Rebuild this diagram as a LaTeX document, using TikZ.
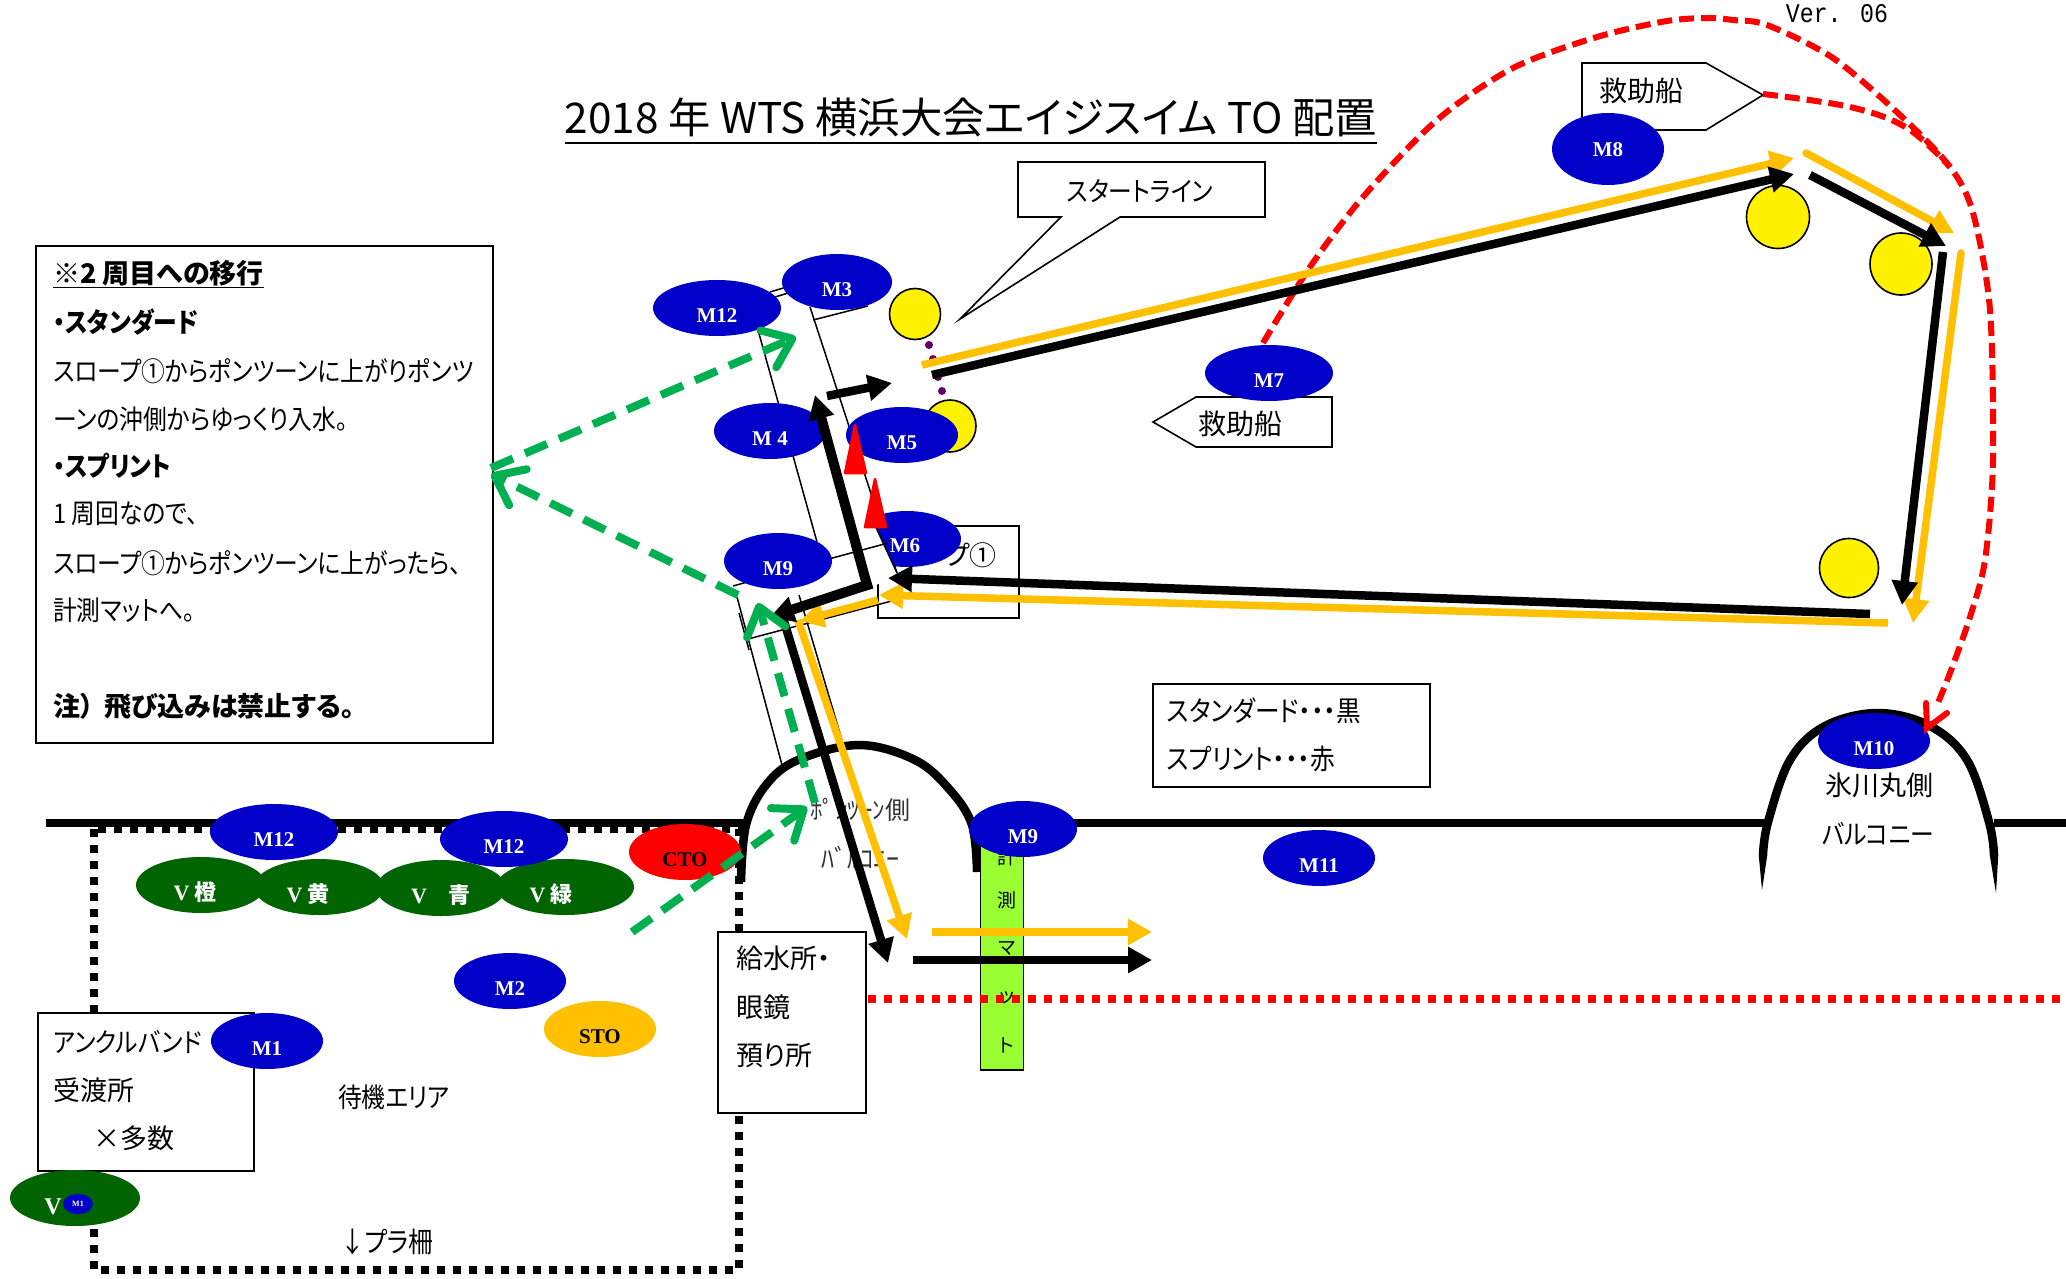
\documentclass[tikz,border=0pt]{standalone}
\usepackage{fontspec}
\setmainfont[RawFeature=+palt]{Noto Sans CJK JP}
\newfontfamily\janar[RawFeature=+palt,FakeStretch=0.88]{Noto Sans CJK JP}
\newfontfamily\mserif{Liberation Serif}
\newfontfamily\vermono[FakeStretch=0.86]{Liberation Mono}
\usetikzlibrary{arrows.meta,shapes.geometric}
\definecolor{mblue}{HTML}{0000C8}
\definecolor{vgreen}{HTML}{006400}
\definecolor{gold}{HTML}{FFC000}
\definecolor{dgreen}{HTML}{00B050}
\definecolor{matgreen}{HTML}{99FF33}
\definecolor{dotpurple}{HTML}{660066}
\tikzset{
 x=1pt,y=-1pt,
 el/.style={shape=ellipse,inner sep=0pt,minimum height=56pt},
 mel/.style={el,fill=mblue},
 vel/.style={el,fill=vgreen},
 lab/.style={font=\mserif\bfseries\fontsize{21}{21}\selectfont,yshift=-7.5pt,inner sep=0pt},
 wlab/.style={lab,text=white},
 ja/.style={font=\fontsize{27}{27}\selectfont,anchor=west,inner sep=0pt},
 jn/.style={ja,font=\janar\fontsize{27}{27}\selectfont},
 jnl/.style={ja,font=\janar\fontsize{28}{28}\selectfont},
 jb/.style={ja,font=\bfseries\fontsize{27}{27}\selectfont},
 jbn/.style={ja,font=\janar\bfseries\fontsize{27}{27}\selectfont},
 boxs/.style={draw=black,line width=1.6pt,fill=white},
 buoy/.style={shape=circle,draw=black,line width=1.6pt,fill=yellow,inner sep=0pt},
 dotp/.style={shape=circle,fill=dotpurple,inner sep=0pt,minimum size=8pt},
 thin line/.style={draw=black,line width=1.5pt},
 wall/.style={draw=black,line width=8.5pt},
 blk/.style={draw=black,line width=8.5pt,-{Triangle[length=24pt,width=25pt]}},
 blkb/.style={blk,line width=10pt,line cap=rect},
 org/.style={draw=gold,line width=7.5pt,-{Triangle[length=24pt,width=25pt]}},
 gdash/.style={draw=dgreen,line width=8pt,dash pattern=on 24pt off 13pt,-{Straight Barb[length=26pt,width=40pt,line width=8pt,round]}},
 rdash/.style={draw=red,line width=6pt,dash pattern=on 15pt off 7pt},
 cone/.style={fill=red,draw=red,line width=2.5pt,line join=round},
 vtx/.style={font=\bfseries\fontsize{22}{22}\selectfont,text=white,inner sep=0pt,yshift=-7pt},
 mattx/.style={font=\fontsize{19}{19}\selectfont,inner sep=0pt}
}
\begin{document}
\begin{tikzpicture}
\useasboundingbox (0,0) rectangle (2066,1279);
\fill[white] (0,0) rectangle (2066,1279);

% title and version
\node[inner sep=0pt,font=\fontsize{42.3}{42.3}\selectfont] (title) at (971,117) {2018 年 WTS 横浜大会エイジスイム TO 配置};
\draw[line width=2pt] ([yshift=-6pt]title.south west) -- ([yshift=-6pt]title.south east);
\node[inner sep=0pt,font=\vermono\fontsize{27}{27}\selectfont] (ver) at (1837,14) {Ver. 06};

% fence and walls
\coordinate (fa) at (94,829); \coordinate (fb) at (94,1270); \coordinate (fc) at (739,1270); \coordinate (fd) at (739,829);
\draw[line width=7.5pt,dash pattern=on 8pt off 8pt] (fa) -- (fb) -- (fc) -- (fd) -- cycle;
\coordinate (w1) at (46,823); \coordinate (w2) at (748,823); \coordinate (w3) at (970,823); \coordinate (w4) at (1765,823); \coordinate (w5) at (1994,823); \coordinate (w6) at (2066,823);
\draw[wall] (w1) -- (w2);
\draw[wall] (w3) -- (w4);
\draw[wall] (w5) -- (w6);
\draw[wall] plot[smooth,tension=.6] coordinates {(741,882) (746,825) (766,785) (798,760) (859,745) (915,760) (950,790) (972,825) (977,872)};
\draw[wall] plot[smooth,tension=.6] coordinates {(1763,855) (1768,822) (1790,760) (1825,726) (1878,713) (1930,726) (1967,760) (1989,822) (1994,855)};
\coordinate (sp1) at (1758.7,855); \coordinate (sp2) at (1762,890); \coordinate (sp3) at (1767.3,855);
\coordinate (sp4) at (1989.7,855); \coordinate (sp5) at (1996,893); \coordinate (sp6) at (1998.3,855);
\fill[black] (sp1) -- (sp2) -- (sp3) -- cycle;
\fill[black] (sp4) -- (sp5) -- (sp6) -- cycle;

% pontoon outlines
\coordinate (p1) at (758,330); \coordinate (p2) at (817,542);
\coordinate (p3) at (810,307); \coordinate (p4) at (897,573);
\coordinate (p5) at (770,292); \coordinate (p6) at (800,283);
\coordinate (p7) at (775,297); \coordinate (p8) at (805,288);
\coordinate (p9) at (813,320); \coordinate (p10) at (868,306);
\coordinate (p11) at (733,586); \coordinate (p12) at (888,543);
\coordinate (p13) at (737,597); \coordinate (p14) at (782,765);
\coordinate (p15) at (799,595); \coordinate (p16) at (844,747);
\coordinate (p17) at (782,765); \coordinate (p18) at (844,747);
\coordinate (p19) at (748,639); \coordinate (p20) at (903,598);
\coordinate (p21) at (739,613); \coordinate (p22) at (749,650);
\foreach \a/\b in {p1/p2,p3/p4,p5/p6,p7/p8,p9/p10,p11/p12,p13/p14,p15/p16,p17/p18,p19/p20,p21/p22}
  \draw[thin line] (\a) -- (\b);

% slope box
\node[boxs,fill=none,minimum width=141pt,minimum height=92pt,inner sep=0pt] (slope) at (948.5,572) {};
\node[inner sep=0pt,anchor=east,font=\fontsize{27}{27}\selectfont] (slopet) at (997,555) {スロープ①};

% balcony texts
\node[inner sep=0pt,font=\fontsize{25}{25}\selectfont,text=black!80] (pb1) at (860,810) {ﾎﾟﾝﾂｰﾝ側};
\node[inner sep=0pt,font=\fontsize{26}{26}\selectfont,text=black!80] (pb2) at (860,858) {ﾊﾞﾙｺﾆｰ};
\node[ja,anchor=center] (hk1) at (1879,785) {氷川丸側};
\node[jn,anchor=center] (hk2) at (1878,834) {バルコニー};

% mat
\node[draw=black,line width=1.6pt,fill=matgreen,minimum width=43pt,minimum height=232pt,inner sep=0pt] (mat) at (1002,954) {};
\node[mattx] (mt1) at (1007,857) {計};
\node[mattx] (mt2) at (1007,900) {測};
\node[mattx] (mt3) at (1007,948) {マ};
\node[mattx] (mt4) at (1007,998) {ッ};
\node[mattx] (mt5) at (1007,1045) {ト};

% red dotted finish line
\coordinate (r1) at (868,999); \coordinate (r2) at (2066,999);
\draw[red,line width=8pt,dash pattern=on 8pt off 8pt] (r1) -- (r2);

% boxes
\node[boxs,minimum width=457pt,minimum height=497pt,inner sep=0pt] (note) at (264.5,494.5) {};
\node[jb] (n1) at (53,274) {\underline{※2 周目への移行}};
\node[jbn] (n2) at (53,322) {・スタンダード};
\node[jn] (n3) at (53,371) {スロープ①からポンツーンに上がりポンツ};
\node[jn] (n4) at (53,419) {ーンの沖側からゆっくり入水。};
\node[jbn] (n5) at (53,466) {・スプリント};
\node[jn] (n6) at (53,514) {1 周回なので、};
\node[jn] (n7) at (53,563) {スロープ①からポンツーンに上がったら、};
\node[jn] (n8) at (53,610) {計測マットへ。};
\node[jb] (n9) at (53,706) {注）\hspace{.4em}飛び込みは禁止する。};

\node[boxs,minimum width=277pt,minimum height=103pt,inner sep=0pt] (legend) at (1291.5,735.5) {};
\node[jnl] (l1) at (1167,711) {スタンダード・・・黒};
\node[jnl] (l2) at (1167,759) {スプリント・・・赤};

\node[boxs,minimum width=148pt,minimum height=181pt,inner sep=0pt] (water) at (792,1022.5) {};
\node[ja] (wt1) at (736,958) {給水所・};
\node[ja] (wt2) at (736,1007) {眼鏡};
\node[ja] (wt3) at (736,1055) {預り所};

\node[boxs,minimum width=216pt,minimum height=158pt,inner sep=0pt] (ankle) at (146,1092) {};
\node[jn] (at1) at (53,1042) {アンクルバンド};
\node[ja] (at2) at (53,1090) {受渡所};
\node[ja] (at3) at (93,1138) {×多数};

\node[jn,anchor=center] (wait) at (394,1097) {待機エリア};
\node[jnl,anchor=center] (fencet) at (387,1242) {↓プラ柵};

% callouts
\coordinate (c1) at (1018,162); \coordinate (c2) at (1265,162); \coordinate (c3) at (1265,217); \coordinate (c4) at (1120,217); \coordinate (c5) at (960,319); \coordinate (c6) at (1061,217); \coordinate (c7) at (1018,217);
\draw[boxs] (c1) -- (c2) -- (c3) -- (c4) -- (c5) -- (c6) -- (c7) -- cycle;
\node[jn,anchor=center] (ct1) at (1140,191) {スタートライン};

\coordinate (d1) at (1582,63); \coordinate (d2) at (1706,63); \coordinate (d3) at (1763,95); \coordinate (d4) at (1706,130); \coordinate (d5) at (1582,130);
\draw[boxs] (d1) -- (d2) -- (d3) -- (d4) -- (d5) -- cycle;
\node[ja,anchor=center,font=\fontsize{28}{28}\selectfont] (dt1) at (1641,91) {救助船};

\coordinate (e1) at (1153,422); \coordinate (e2) at (1196,397); \coordinate (e3) at (1332,397); \coordinate (e4) at (1332,447); \coordinate (e5) at (1196,447);
\draw[boxs] (e1) -- (e2) -- (e3) -- (e4) -- (e5) -- cycle;
\node[ja,anchor=center,font=\fontsize{28}{28}\selectfont] (et1) at (1240,424) {救助船};

% buoys
\node[buoy,minimum size=51pt] (b1) at (915,314) {};
\node[buoy,minimum size=52pt] (b2) at (950,426) {};
\node[buoy,minimum size=63pt] (b3) at (1778,217) {};
\node[buoy,minimum size=62pt] (b4) at (1901,264) {};
\node[buoy,minimum size=59pt] (b5) at (1849,568) {};
\node[dotp] (dp1) at (929,345) {};
\node[dotp] (dp2) at (933,359) {};
\node[dotp] (dp3) at (938,377) {};
\node[dotp] (dp4) at (942,391) {};

% ellipses
\node[mel,minimum width=128pt,label={[wlab]center:M12}] (m12a) at (717,308) {};
\node[mel,minimum width=110pt,label={[wlab]center:M3}] (m3) at (837,282) {};
\node[mel,minimum width=112pt,label={[wlab]center:M 4}] (m4) at (770,431) {};
\node[mel,minimum width=112pt,label={[wlab]center:M5}] (m5) at (902,435) {};
\node[mel,minimum width=108pt] (m6) at (907,539) {};
% white pontoon end lies over the M6 ellipse
\coordinate (q1) at (868,510); \coordinate (q2) at (897,573); \coordinate (q3) at (868,590); \coordinate (q4) at (817,590); \coordinate (q5) at (817,542);
\fill[white] (q1) -- (q2) -- (q3) -- (q4) -- (q5) -- cycle;
\draw[thin line] (q1) -- (q2);
\coordinate (q6) at (825,560);
\draw[thin line] (q6) -- (p12);
\node[wlab,yshift=7.5pt] (m6t) at (905,546) {M6};
\node[mel,minimum width=108pt,label={[wlab]center:M9}] (m9a) at (778,561) {};
\node[mel,minimum width=128pt,label={[wlab]center:M7}] (m7) at (1269,373) {};
\node[el,fill=mblue,minimum width=112pt,minimum height=72pt,label={[wlab,yshift=7pt]center:M8}] (m8) at (1608,149) {};
\node[mel,minimum width=112pt,label={[wlab]center:M10}] (m10) at (1874,741) {};
\node[mel,minimum width=112pt,label={[wlab]center:M11}] (m11) at (1319,858) {};
\node[mel,minimum width=108pt,label={[wlab]center:M9}] (m9b) at (1023,829) {};

\node[vel,minimum width=130pt,label={[vtx,xshift=-6pt]center:{\mserif V} 橙}] (v1) at (201,885) {};
\node[vel,minimum width=130pt,label={[vtx,xshift=-11pt]center:{\mserif V} 黄}] (v2) at (319,887) {};
\node[vel,minimum width=130pt,label={[vtx]center:{\mserif V}\hspace{1em}青}] (v3) at (441,888) {};
\node[vel,minimum width=138pt,label={[vtx,xshift=-14pt]center:{\mserif V} 緑}] (v4) at (565,887) {};
\node[mel,minimum width=128pt,label={[wlab]center:M12}] (m12b) at (274,832) {};
\node[mel,minimum width=128pt,label={[wlab]center:M12}] (m12c) at (504,839) {};
\node[el,fill=red,minimum width=112pt,label={[lab]center:CTO}] (cto) at (685,852) {};
\node[mel,minimum width=112pt,label={[wlab]center:M2}] (m2) at (510,981) {};
\node[el,fill=gold,minimum width=112pt,label={[lab]center:STO}] (sto) at (600,1029) {};
\node[mel,minimum width=112pt,label={[wlab]center:M1}] (m1) at (267,1041) {};
\node[vel,minimum width=130pt] (v5) at (75,1198) {};
\node[inner sep=0pt,font=\mserif\bfseries\fontsize{24}{24}\selectfont,text=white] (v5t) at (53,1207) {V};
\node[el,fill=mblue,minimum width=30pt,minimum height=20pt,font=\mserif\bfseries\fontsize{8}{8}\selectfont,text=white] (m1s) at (78,1204) {M1};

% cones
\coordinate (k1) at (855,425); \coordinate (k2) at (845,473); \coordinate (k3) at (866,473);
\coordinate (k4) at (875,479); \coordinate (k5) at (865,527); \coordinate (k6) at (886,527);
\draw[cone] (k1) -- (k2) -- (k3) -- cycle;
\draw[cone] (k4) -- (k5) -- (k6) -- cycle;

% red dashed routes
\coordinate (ra) at (1263,343);
\coordinate (rb) at (1763,94);
\coordinate (rtip) at (1927,728);
\coordinate (rarm1) at (1926,703); \coordinate (rarm2) at (1947,713);
\draw[rdash] plot[smooth,tension=.5] coordinates {(ra) (1310,267) (1363,197) (1437,120) (1513,68) (1597,37) (1667,21) (1710,18) (1733,20) (1767,25) (1833,58) (1900,115) (1950,167) (1973,213) (1990,310) (1993,461) (1985,560) (1970,617) (1950,673) (1937,705)};
\draw[rdash] plot[smooth,tension=.6] coordinates {(rb) (1850,107) (1907,128) (1950,167)};
\draw[red,line width=6pt,line cap=round] (rarm1) -- (rtip) -- (rarm2);

% orange course
\coordinate (o1) at (922,365); \coordinate (o2) at (1794,158);
\coordinate (o3) at (1806,153); \coordinate (o4) at (1954,233);
\coordinate (o5) at (1961,253); \coordinate (o6) at (1913,623);
\coordinate (o7) at (1888,623); \coordinate (o8) at (879,595);
\coordinate (o9) at (878,600); \coordinate (o10) at (800,621);
\coordinate (o11) at (798,620); \coordinate (o12) at (907,939);
\coordinate (o13) at (932,932); \coordinate (o14) at (1152,932);
\draw[org] (o1) -- (o2);
\draw[org,line cap=round] (o3) -- (o4);
\draw[org,line cap=round] (o5) -- (o6);
\draw[org] (o7) -- (o8);
\draw[org] (o9) -- (o10);
\draw[org] (o11) -- (o12);
\draw[org] (o13) -- (o14);

% black course
\coordinate (s1) at (932,375); \coordinate (s2) at (1794,174);
\coordinate (s3) at (1810,175); \coordinate (s4) at (1946,246);
\coordinate (s5) at (1943,252); \coordinate (s6) at (1902,605);
\coordinate (s7) at (1870,614); \coordinate (s8) at (888,578);
\coordinate (s9) at (867,585); \coordinate (s10) at (815,395);
\coordinate (s11) at (770,617);
\coordinate (s12) at (783,618); \coordinate (s13) at (888,963);
\coordinate (s14) at (913,960); \coordinate (s15) at (1152,960);
\coordinate (s16) at (827,396); \coordinate (s17) at (892,383);
\draw[blk] (s1) -- (s2);
\draw[blk] (s3) -- (s4);
\draw[blk] (s5) -- (s6);
\draw[blk] (s7) -- (s8);
\draw[blkb] (s9) -- (s10);
\draw[blkb] (s9) -- (s11);
\draw[blk] (s12) -- (s13);
\draw[blk] (s14) -- (s15);
\draw[blk] (s16) -- (s17);

% green dashed routes
\coordinate (g1) at (632,932); \coordinate (g2) at (807,807);
\coordinate (g3) at (815,803); \coordinate (g4) at (758,603);
\coordinate (g5) at (738,595); \coordinate (g6) at (491,474);
\coordinate (g7) at (491,468); \coordinate (g8) at (796,337);
\draw[gdash] (g1) -- (g2);
\draw[gdash] (g3) -- (g4);
\draw[gdash] (g5) -- (g6);
\draw[gdash] (g7) -- (g8);
\end{tikzpicture}
\end{document}
